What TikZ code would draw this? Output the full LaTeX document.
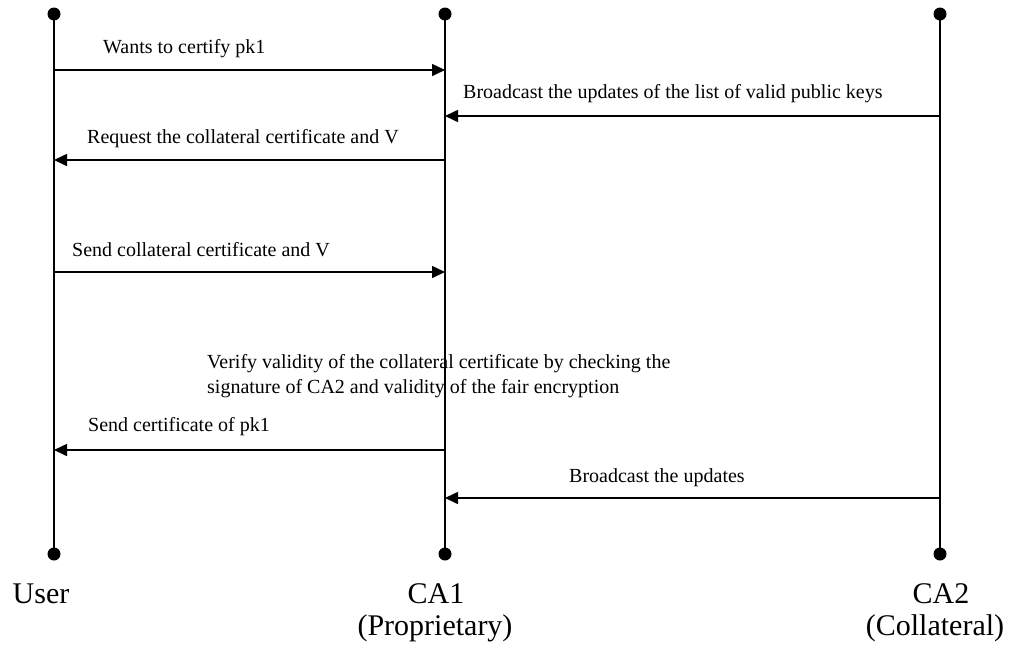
\documentclass[tikz,border=0pt]{standalone}
\usepackage{fontspec}
\setmainfont{Liberation Serif}
\usetikzlibrary{arrows.meta}
\tikzset{
  dot/.style={circle,fill=black,inner sep=0pt,minimum size=13pt},
  life/.style={line width=1.8pt},
  msg/.style={line width=1.6pt,-{Triangle[length=13pt,width=12pt]}},
  lbl/.style={anchor=base west,inner sep=0pt,font=\fontsize{20}{25}\selectfont},
  actor/.style={anchor=base,inner sep=0pt,font=\fontsize{30}{32}\selectfont,align=center}
}
\begin{document}
\begin{tikzpicture}[x=1pt,y=-1pt]
\useasboundingbox (0,0) rectangle (1012,648);
% lifeline dots
\node[dot] (ut) at (54,14) {};
\node[dot] (ub) at (54,554) {};
\node[dot] (at) at (445,14) {};
\node[dot] (ab) at (445,554) {};
\node[dot] (bt) at (940,14) {};
\node[dot] (bb) at (940,554) {};
\draw[life] (ut.center) -- (ub.center);
\draw[life] (at.center) -- (ab.center);
\draw[life] (bt.center) -- (bb.center);
% message points
\coordinate (u1) at (54,70);   \coordinate (a1) at (445,70);
\coordinate (a2) at (445,116); \coordinate (b2) at (940,116);
\coordinate (u3) at (54,160);  \coordinate (a3) at (445,160);
\coordinate (u4) at (54,272);  \coordinate (a4) at (445,272);
\coordinate (u6) at (54,450);  \coordinate (a6) at (445,450);
\coordinate (a7) at (445,498); \coordinate (b7) at (940,498);
\draw[msg] (u1) -- (a1);
\draw[msg] (b2) -- (a2);
\draw[msg] (a3) -- (u3);
\draw[msg] (u4) -- (a4);
\draw[msg] (a6) -- (u6);
\draw[msg] (b7) -- (a7);
% labels
\node[lbl] (l1) at (103,53) {Wants to certify pk1};
\node[lbl] (l2) at (463,98) {Broadcast the updates of the list of valid public keys};
\node[lbl] (l3) at (87,143) {Request the collateral certificate and V};
\node[lbl] (l4) at (72,256) {Send collateral certificate and V};
\node[lbl] (l5a) at (207,368) {Verify validity of the collateral certificate by checking the};
\node[lbl] (l5b) at (207,393) {signature of CA2 and validity of the fair encryption};
\node[lbl] (l6) at (88,431) {Send certificate of pk1};
\node[lbl] (l7) at (569,482) {Broadcast the updates};
% actors
\node[actor] (user) at (41,603) {User};
\node[actor] (ca1) at (436,603) {CA1};
\node[actor] (ca1b) at (435,635) {(Proprietary)};
\node[actor] (ca2) at (941,603) {CA2};
\node[actor] (ca2b) at (935,635) {(Collateral)};
\end{tikzpicture}
\end{document}
